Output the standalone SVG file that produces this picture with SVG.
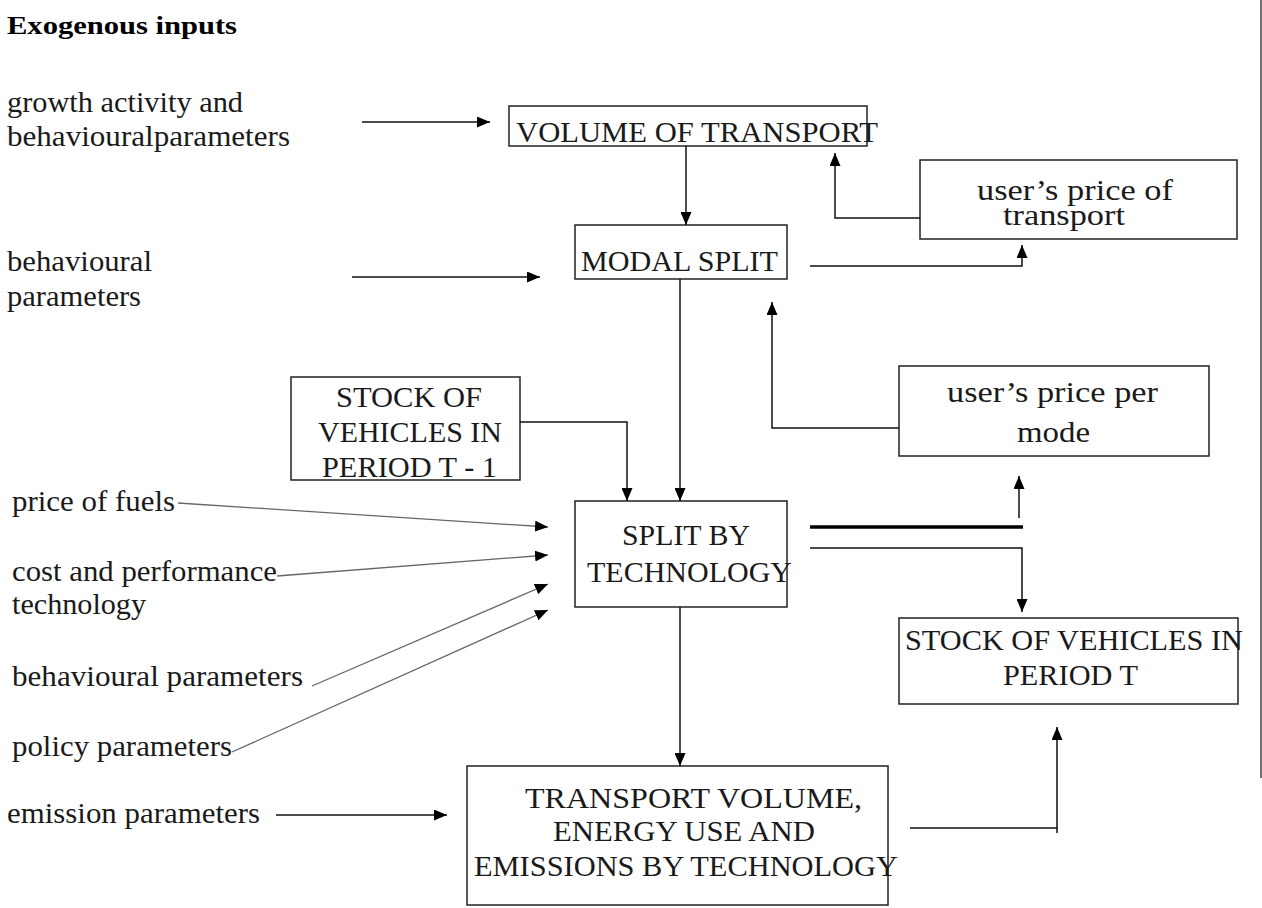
<svg xmlns="http://www.w3.org/2000/svg" width="1262" height="908" viewBox="0 0 1262 908">
<defs>
<marker id="ah" viewBox="0 0 13 11" refX="13" refY="5.5" markerWidth="13" markerHeight="11" markerUnits="userSpaceOnUse" orient="auto">
<path d="M0,0 L13,5.5 L0,11 z" fill="#000"/>
</marker>
</defs>
<style>
text{font-family:"Liberation Serif","Times New Roman",serif;font-size:29px;fill:#1a1a1a}
.b{font-weight:bold;font-size:25px;fill:#000}
.box{fill:none;stroke:#222;stroke-width:1.5}
.c{fill:none;stroke:#111;stroke-width:1.5}
.g{fill:none;stroke:#666;stroke-width:1.3}
</style>
<rect width="1262" height="908" fill="#fff"/>
<line x1="1261" y1="0" x2="1261" y2="778" stroke="#444" stroke-width="1.5"/>

<g id="labels">
<text class="b" x="7" y="34" textLength="230" lengthAdjust="spacingAndGlyphs">Exogenous inputs</text>
<text x="7" y="112" textLength="236" lengthAdjust="spacingAndGlyphs">growth activity and</text>
<text x="7" y="146" textLength="283" lengthAdjust="spacingAndGlyphs">behaviouralparameters</text>
<text x="7" y="271" textLength="145" lengthAdjust="spacingAndGlyphs">behavioural</text>
<text x="7" y="306" textLength="134" lengthAdjust="spacingAndGlyphs">parameters</text>
<text x="12" y="511" textLength="163" lengthAdjust="spacingAndGlyphs">price of fuels</text>
<text x="12" y="581" textLength="265" lengthAdjust="spacingAndGlyphs">cost and performance</text>
<text x="12" y="614" textLength="134" lengthAdjust="spacingAndGlyphs">technology</text>
<text x="12" y="686" textLength="291" lengthAdjust="spacingAndGlyphs">behavioural parameters</text>
<text x="12" y="756" textLength="220" lengthAdjust="spacingAndGlyphs">policy parameters</text>
<text x="7" y="823" textLength="253" lengthAdjust="spacingAndGlyphs">emission parameters</text>
</g>

<g id="volume">
<rect class="box" x="509" y="106" width="358" height="40"/>
<text x="516" y="142" textLength="362" lengthAdjust="spacingAndGlyphs">VOLUME OF TRANSPORT</text>
</g>
<g id="modal">
<rect class="box" x="575" y="225" width="212" height="54"/>
<text x="581" y="271" textLength="197" lengthAdjust="spacingAndGlyphs">MODAL SPLIT</text>
</g>
<g id="price-transport">
<rect class="box" x="920" y="160" width="317" height="79"/>
<text x="977" y="200" textLength="196" lengthAdjust="spacingAndGlyphs">user’s price of</text>
<text x="1003" y="225" textLength="122" lengthAdjust="spacingAndGlyphs">transport</text>
</g>
<g id="stock-t1">
<rect class="box" x="291" y="377" width="229" height="103"/>
<text x="336" y="407" textLength="146" lengthAdjust="spacingAndGlyphs">STOCK OF</text>
<text x="318" y="442" textLength="184" lengthAdjust="spacingAndGlyphs">VEHICLES IN</text>
<text x="322" y="477" textLength="175" lengthAdjust="spacingAndGlyphs">PERIOD T - 1</text>
</g>
<g id="price-mode">
<rect class="box" x="899" y="366" width="310" height="90"/>
<text x="947" y="402" textLength="211" lengthAdjust="spacingAndGlyphs">user’s price per</text>
<text x="1017" y="442" textLength="73" lengthAdjust="spacingAndGlyphs">mode</text>
</g>
<g id="split-tech">
<rect class="box" x="575" y="501" width="212" height="106"/>
<text x="622" y="545" textLength="128" lengthAdjust="spacingAndGlyphs">SPLIT BY</text>
<text x="587" y="582" textLength="205" lengthAdjust="spacingAndGlyphs">TECHNOLOGY</text>
</g>
<g id="stock-t">
<rect class="box" x="899" y="618" width="339" height="86"/>
<text x="905" y="650" textLength="338" lengthAdjust="spacingAndGlyphs">STOCK OF VEHICLES IN</text>
<text x="1003" y="685" textLength="135" lengthAdjust="spacingAndGlyphs">PERIOD T</text>
</g>
<g id="transport-volume">
<rect class="box" x="467" y="766" width="421" height="139"/>
<text x="525" y="808" textLength="337" lengthAdjust="spacingAndGlyphs">TRANSPORT VOLUME,</text>
<text x="553" y="841" textLength="262" lengthAdjust="spacingAndGlyphs">ENERGY USE AND</text>
<text x="474" y="876" textLength="424" lengthAdjust="spacingAndGlyphs">EMISSIONS BY TECHNOLOGY</text>
</g>

<g id="connectors">
<line class="c" x1="362" y1="122" x2="490" y2="122" marker-end="url(#ah)"/>
<line class="c" x1="686" y1="146" x2="686" y2="225" marker-end="url(#ah)"/>
<line class="c" x1="352" y1="277" x2="540" y2="277" marker-end="url(#ah)"/>
<polyline class="c" points="810,266 1022,266 1022,245" marker-end="url(#ah)"/>
<polyline class="c" points="920,218 835,218 835,153" marker-end="url(#ah)"/>
<line class="c" x1="680" y1="279" x2="680" y2="501" marker-end="url(#ah)"/>
<polyline class="c" points="520,422 627,422 627,501" marker-end="url(#ah)"/>
<polyline class="c" points="899,428 772,428 772,302" marker-end="url(#ah)"/>
<line x1="810" y1="527" x2="1023" y2="527" stroke="#000" stroke-width="3.5"/>
<line class="c" x1="1019" y1="518" x2="1019" y2="476" marker-end="url(#ah)"/>
<polyline class="c" points="810,548 1022,548 1022,612" marker-end="url(#ah)"/>
<line class="c" x1="680" y1="607" x2="680" y2="766" marker-end="url(#ah)"/>
<polyline class="c" points="910,828 1057,828 1057,727" marker-end="url(#ah)"/>
<line class="c" x1="1057" y1="828" x2="1057" y2="833"/>
<line class="c" x1="276" y1="815" x2="447" y2="815" marker-end="url(#ah)"/>
<line class="g" x1="178" y1="503" x2="548" y2="527" marker-end="url(#ah)"/>
<line class="g" x1="277" y1="576" x2="548" y2="555" marker-end="url(#ah)"/>
<line class="g" x1="312" y1="686" x2="548" y2="584" marker-end="url(#ah)"/>
<line class="g" x1="232" y1="752" x2="548" y2="610" marker-end="url(#ah)"/>
</g>
</svg>
